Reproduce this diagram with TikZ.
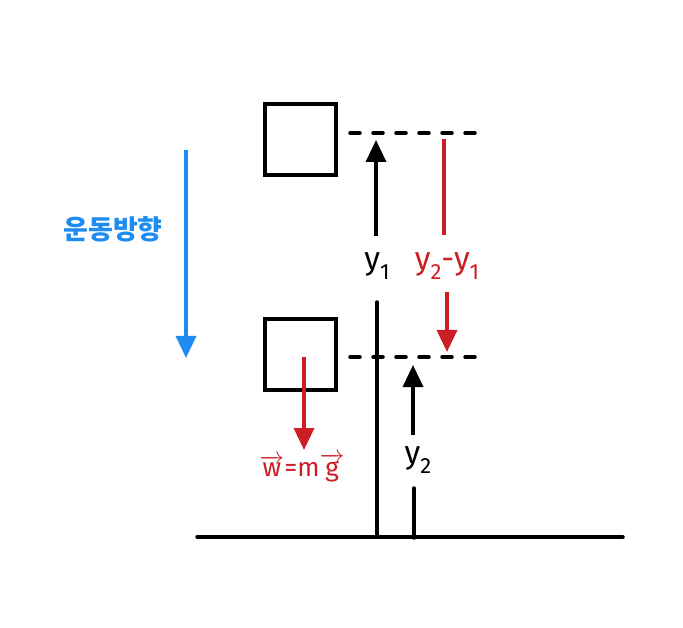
\documentclass[tikz,border=0pt]{standalone}
\usepackage{fontspec}
\setmainfont{Fira Sans}
\newfontfamily\krfont{Noto Sans CJK KR}
\usetikzlibrary{arrows.meta}
\definecolor{myred}{RGB}{204,30,36}
\definecolor{myblue}{RGB}{30,140,240}
\newcommand{\subdig}[1]{\raisebox{-0.3em}{\fontsize{22}{22}\selectfont #1}}
\newcommand{\arrowover}[1]{$\overrightarrow{\mbox{#1}}$}
\begin{document}
\begin{tikzpicture}[x=1pt,y=-1pt,
  thickline/.style={line width=3.5pt,line cap=round},
  arr/.style={line width=3.5pt,-{Triangle[length=22pt,width=20pt]}},
  box/.style={draw,line width=3.5pt,minimum size=71pt,inner sep=0pt},
  dashline/.style={line width=3.5pt,line cap=round,dash pattern=on 10pt off 13pt},
  lab/.style={font=\fontsize{32}{32}\selectfont,inner sep=1pt}]
\useasboundingbox (0,0) rectangle (683,628);
% ground
\coordinate (g1) at (197,537);
\coordinate (g2) at (623,537);
\draw[thickline] (g1) -- (g2);
% motion direction
\coordinate (b1) at (186,150);
\coordinate (b2) at (186,358);
\draw[arr,myblue] (b1) -- (b2);
\node[font=\krfont\bfseries\fontsize{27}{27}\selectfont,text=myblue] (dir) at (113,229) {운동방향};
% boxes
\node[box] (top) at (300.5,139.5) {};
\node[box] (bot) at (300.5,354.5) {};
% dashed levels
\coordinate (d1a) at (350,133);
\coordinate (d1b) at (476,133);
\coordinate (d2a) at (350,357);
\coordinate (d2b) at (476,357);
\draw[dashline] (d1a) -- (d1b);
\draw[dashline] (d2a) -- (d2b);
% y1
\node[lab] (y1) at (377,266) {y\subdig{1}};
\coordinate (y1tip) at (376,140);
\coordinate (y1base) at (377,537);
\draw[arr] (376,236) coordinate (y1tail) -- (y1tip);
\draw[thickline] (377,302) coordinate (y1low) -- (y1base);
% y2
\node[lab] (y2) at (418,460) {y\subdig{2}};
\coordinate (y2tip) at (413,365);
\draw[arr] (413,435) coordinate (y2tail) -- (y2tip);
\draw[thickline] (414,488) coordinate (y2low) -- (414,538) coordinate (y2base);
% y2 - y1
\node[lab,text=myred] (dy) at (447,266) {y\subdig{2}-y\subdig{1}};
\draw[thickline,myred,line cap=butt] (444,139) coordinate (dytop) -- (444,235) coordinate (dymid);
\draw[arr,myred] (447,292) coordinate (dytail) -- (447,352) coordinate (dytip);
% weight
\draw[arr,myred] (304,357) coordinate (wtail) -- (304,450) coordinate (wtip);
\node[text=myred,font=\fontsize{26}{26}\selectfont,inner sep=1pt] (w) at (302,468) {\arrowover{w}=m\arrowover{g}};
\end{tikzpicture}
\end{document}
